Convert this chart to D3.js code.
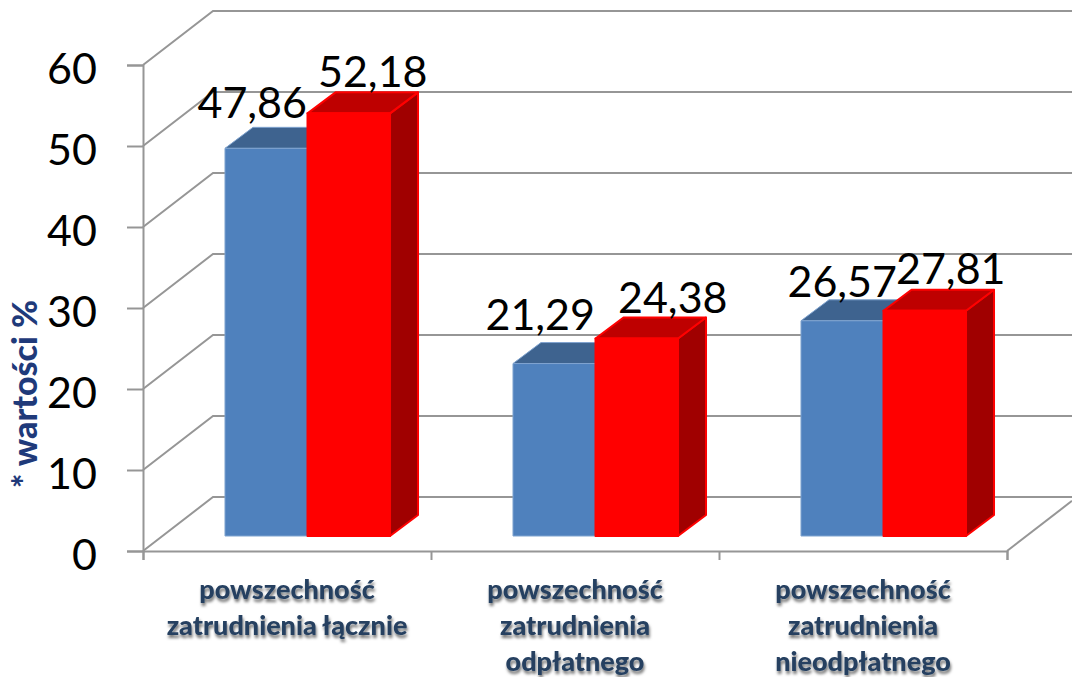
<!DOCTYPE html>
<html>
<head>
<meta charset="utf-8">
<script src="https://cdn.jsdelivr.net/npm/d3@7"></script>
<style>
  html, body { margin: 0; padding: 0; background: #fff; overflow: hidden; }
  svg { display: block; }
  text { font-family: "Lato", sans-serif; }
</style>
</head>
<body>
<script>
// Data
const categories = ['łącznie', 'odpłatnego', 'nieodpłatnego'];
const categoryLines = [
  ['powszechność', 'zatrudnienia łącznie'],
  ['powszechność', 'zatrudnienia', 'odpłatnego'],
  ['powszechność', 'zatrudnienia', 'nieodpłatnego']
];
const blueValues = [47.86, 21.29, 26.57];
const redValues = [52.18, 24.38, 27.81];
const yTicks = [0, 10, 20, 30, 40, 50, 60];
const yTitle = '* wartości %';

// SVG dimensions
const fullWidth = 1072;
const fullHeight = 677;

// Front plane of the fake 3D box
const plot = { left: 143, right: 1007, bottom: 551, top: 65 };
const wall = { dx: 70, dy: -54 };     // depth of the box
const barDepth = { dx: 28, dy: -21 }; // depth of a bar
const barShift = { dx: 20.5, dy: -15 }; // bars stand inside the floor

const gridColor = '#969696';

const svg = d3.select('body')
  .append('svg')
  .attr('width', fullWidth)
  .attr('height', fullHeight);

// Shadow under the category labels
const shadow = svg.append('defs')
  .append('filter')
  .attr('id', 'label-shadow')
  .attr('x', '-10%').attr('y', '-30%')
  .attr('width', '120%').attr('height', '170%');
shadow.append('feDropShadow')
  .attr('dx', 1).attr('dy', 3)
  .attr('stdDeviation', 1.8)
  .attr('flood-color', '#000')
  .attr('flood-opacity', 0.55);

// Scales
const y = d3.scaleLinear().domain([0, 60]).range([plot.bottom, plot.top]);

const xLabel = d3.scaleBand()
  .domain(categories)
  .range([plot.left, plot.right]);

const xGroup = d3.scaleBand()
  .domain(categories)
  .range([plot.left + barShift.dx, plot.right + barShift.dx])
  .paddingInner(0.427)
  .paddingOuter(0.2135);

const xSeries = d3.scaleBand()
  .domain(['blue', 'red'])
  .range([0, xGroup.bandwidth()]);

const format = d3.formatLocale({ decimal: ',', thousands: ' ', grouping: [3], currency: ['', ''] }).format('.2f');

// Grid: back wall and left wall
const grid = svg.append('g')
  .attr('fill', 'none')
  .attr('stroke', gridColor)
  .attr('stroke-width', 2);

yTicks.forEach(t => {
  const path = d3.path();
  path.moveTo(plot.left, y(t));
  path.lineTo(plot.left + wall.dx, y(t) + wall.dy);
  path.lineTo(fullWidth, y(t) + wall.dy);
  grid.append('path').attr('d', path.toString());
});

// Floor edge on the right, runs out of the picture
grid.append('line')
  .attr('x1', plot.right)
  .attr('y1', plot.bottom)
  .attr('x2', fullWidth)
  .attr('y2', plot.bottom + (fullWidth - plot.right) * wall.dy / wall.dx);

// Axes
const yAxis = d3.axisLeft(y).tickValues(yTicks).tickSize(16).tickPadding(30);
const gy = svg.append('g')
  .attr('transform', `translate(${plot.left},0)`)
  .call(yAxis);
gy.select('.domain').attr('stroke', gridColor).attr('stroke-width', 2);
gy.selectAll('.tick line').attr('stroke', gridColor).attr('stroke-width', 2);
gy.selectAll('.tick text')
  .attr('fill', '#000')
  .attr('dy', '0.42em')
  .style('font-family', 'Lato, sans-serif')
  .style('font-size', '43px');

const tickPositions = [...categories.map(c => xLabel(c)), plot.right];
const xAxis = d3.axisBottom(d3.scaleIdentity().domain([plot.left, plot.right]))
  .tickValues(tickPositions)
  .tickSize(9)
  .tickFormat('');
const gx = svg.append('g')
  .attr('transform', `translate(0,${plot.bottom})`)
  .call(xAxis);
gx.select('.domain').attr('stroke', gridColor).attr('stroke-width', 2);
gx.selectAll('.tick line').attr('stroke', gridColor).attr('stroke-width', 2);

// Bars
const styles = {
  blue: { front: '#4F81BD', top: '#3E638F', side: '#375B86', stroke: '#7FA3CF', strokeWidth: 1 },
  red: { front: '#FF0000', top: '#BE0000', side: '#A00000', stroke: '#FF0000', strokeWidth: 2 }
};

const poly = pts => d3.line()(pts) + 'Z';

function drawBar(cat, series, value) {
  const s = styles[series];
  const x0 = xGroup(cat) + xSeries(series);
  const x1 = x0 + xSeries.bandwidth();
  const yTop = y(value) + barShift.dy;
  const yBase = y(0) + barShift.dy;
  const { dx, dy } = barDepth;

  const bar = svg.append('g')
    .attr('stroke', s.stroke)
    .attr('stroke-width', s.strokeWidth)
    .attr('stroke-linejoin', 'round');

  bar.append('path')
    .attr('fill', s.side)
    .attr('d', poly([[x1, yTop], [x1 + dx, yTop + dy], [x1 + dx, yBase + dy], [x1, yBase]]));
  bar.append('path')
    .attr('fill', s.top)
    .attr('d', poly([[x0, yTop], [x0 + dx, yTop + dy], [x1 + dx, yTop + dy], [x1, yTop]]));
  bar.append('rect')
    .attr('x', x0)
    .attr('y', yTop)
    .attr('width', x1 - x0)
    .attr('height', yBase - yTop)
    .attr('fill', s.front);
}

categories.forEach((c, i) => {
  drawBar(c, 'blue', blueValues[i]);
  drawBar(c, 'red', redValues[i]);
});

// Value labels, moved by hand in the original so they don't follow one rule
const labelNudge = {
  blue: [{ dx: -14, dy: -30 }, { dx: -14, dy: -34 }, { dx: 0, dy: -24 }],
  red: [{ dx: 24, dy: -26 }, { dx: 36, dy: -26 }, { dx: 26, dy: -27 }]
};

function drawValueLabels(series, values) {
  svg.append('g')
    .selectAll('text')
    .data(values)
    .enter()
    .append('text')
    .attr('x', (d, i) => xGroup(categories[i]) + xSeries(series) + xSeries.bandwidth() / 2 + labelNudge[series][i].dx)
    .attr('y', (d, i) => y(d) + barShift.dy + labelNudge[series][i].dy)
    .attr('text-anchor', 'middle')
    .attr('fill', '#000')
    .style('font-size', '43px')
    .text(d => format(d));
}
drawValueLabels('blue', blueValues);
drawValueLabels('red', redValues);

// Category labels
const catLabels = svg.append('g')
  .attr('filter', 'url(#label-shadow)')
  .attr('fill', '#254061')
  .attr('text-anchor', 'middle')
  .style('font-size', '27px')
  .style('font-weight', 900);

categories.forEach((c, i) => {
  catLabels.selectAll(null)
    .data(categoryLines[i])
    .enter()
    .append('text')
    .attr('x', xLabel(c) + xLabel.bandwidth() / 2)
    .attr('y', (d, j) => 599 + j * 36)
    .text(d => d);
});

// Y axis title
svg.append('text')
  .attr('transform', 'translate(37,394) rotate(-90)')
  .attr('text-anchor', 'middle')
  .attr('fill', '#1F3A7A')
  .style('font-size', '34px')
  .style('font-weight', 900)
  .text(yTitle);
</script>
</body>
</html>
